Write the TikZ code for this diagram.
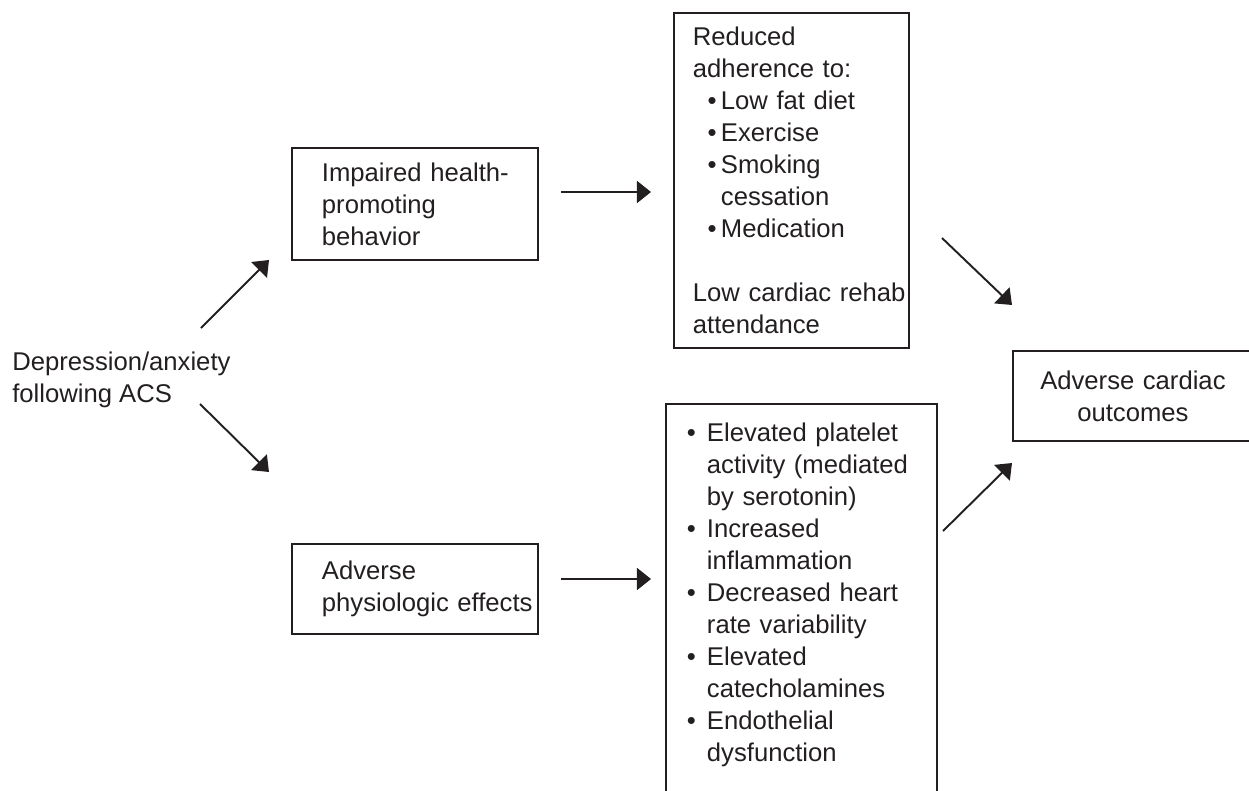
\documentclass[tikz,border=0pt]{standalone}
\usepackage{fontspec}
\setmainfont{Liberation Sans}
\usetikzlibrary{arrows.meta}

\definecolor{ink}{HTML}{231F20}
\newcommand{\boxfont}{\fontsize{14.6pt}{18.2pt}\selectfont}
\newcommand{\pad}[1]{\raggedright\leftskip=#1\relax}
\newenvironment{bullets}[2]{\begin{list}{\textbullet}{\setlength{\leftmargin}{#1}\setlength{\labelsep}{#2}%
  \setlength{\topsep}{0pt}\setlength{\partopsep}{0pt}\setlength{\itemsep}{0pt}\setlength{\parsep}{0pt}}}{\end{list}}

\tikzset{
  frame/.style={draw=ink, line width=1.1pt, anchor=north west, inner xsep=0pt, text=ink, font=\boxfont},
  plain/.style={anchor=north west, inner sep=0pt, align=left, text=ink, font=\boxfont},
  link/.style={->, >={Triangle[length=8pt, width=12.5pt]}, draw=ink, line width=1.1pt}
}

\begin{document}
\begin{tikzpicture}[x=0.02cm, y=-0.02cm]
\useasboundingbox (0,0) rectangle (1249,791);
\clip (0,0) rectangle (1249,791);

\node[plain] (dep) at (12,352) {Depression/anxiety\\following ACS};
\node[frame, text width=4.92cm, minimum height=2.24cm] (impaired) at (291,147)
  {\pad{0.6cm}Impaired health-\\promoting\\behavior\par};
\node[frame, text width=4.92cm, minimum height=1.8cm] (physio) at (291,543)
  {\pad{0.6cm}Adverse\\physiologic effects\par};
\node[frame, text width=4.7cm, minimum height=6.7cm] (reduced) at (673,12)
  {\pad{0.38cm}Reduced\\adherence to:
   \begin{bullets}{0.94cm}{2.5pt}
   \item Low fat diet
   \item Exercise
   \item Smoking\\cessation
   \item Medication
   \end{bullets}
   \vspace{18.2pt}
   Low cardiac rehab\\attendance\par};
\node[frame, text width=5.42cm, inner ysep=0.12cm, text depth=9cm] (markers) at (665,403)
  {\pad{0pt}%
   \begin{bullets}{0.82cm}{0.22cm}
   \item Elevated platelet\\activity (mediated\\by serotonin)
   \item Increased\\inflammation
   \item Decreased heart\\rate variability
   \item Elevated\\catecholamines
   \item Endothelial\\dysfunction
   \end{bullets}};
\node[frame, text width=4.8cm, minimum height=1.8cm, align=center] (outcome) at (1012,350)
  {Adverse cardiac\\outcomes};

% arrow ends
\coordinate (depNE) at (201,328);
\coordinate (impSW) at (269,260);
\coordinate (depSE) at (200,404);
\coordinate (phyNW) at (269,472);
\coordinate (impE) at (561,192);
\coordinate (redW) at (651,192);
\coordinate (phyE) at (561,579);
\coordinate (mrkW) at (651,579);
\coordinate (redSE) at (942,238);
\coordinate (outNW) at (1012,305);
\coordinate (mrkE) at (943,531);
\coordinate (outSW) at (1012,463);

\draw[link] (depNE) -- (impSW);
\draw[link] (depSE) -- (phyNW);
\draw[link] (impE) -- (redW);
\draw[link] (phyE) -- (mrkW);
\draw[link] (redSE) -- (outNW);
\draw[link] (mrkE) -- (outSW);
\end{tikzpicture}
\end{document}
